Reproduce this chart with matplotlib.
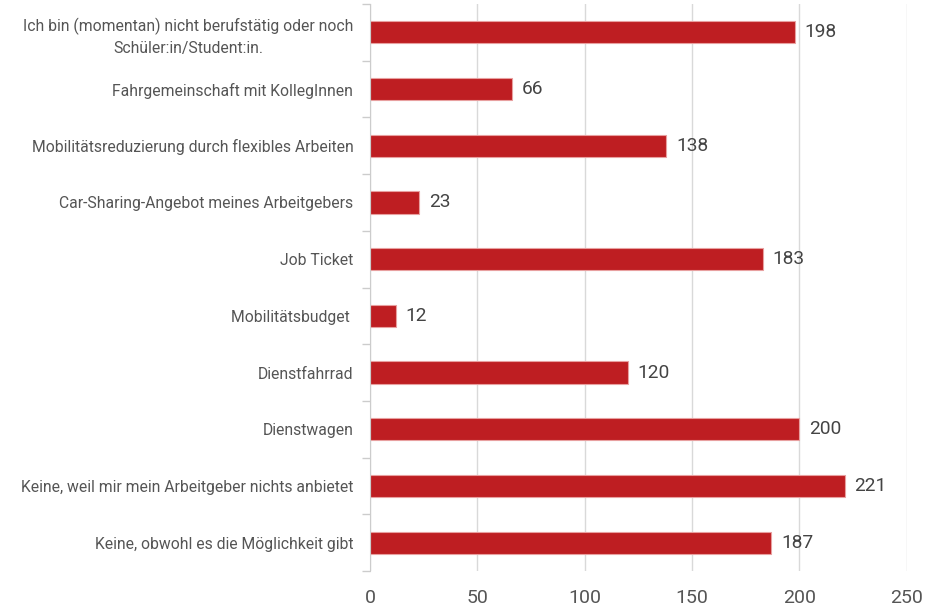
import matplotlib
matplotlib.use("Agg")
import matplotlib.pyplot as plt
import numpy as np

categories = [
    "Ich bin (momentan) nicht berufstätig oder noch\nSchüler:in/Student:in.",
    "Fahrgemeinschaft mit KollegInnen",
    "Mobilitätsreduzierung durch flexibles Arbeiten",
    "Car-Sharing-Angebot meines Arbeitgebers",
    "Job Ticket",
    "Mobilitätsbudget ",
    "Dienstfahrrad",
    "Dienstwagen",
    "Keine, weil mir mein Arbeitgeber nichts anbietet",
    "Keine, obwohl es die Möglichkeit gibt",
]
values = [198, 66, 138, 23, 183, 12, 120, 200, 221, 187]
xticks = [0, 50, 100, 150, 200, 250]

plt.rcParams['font.family'] = ['Roboto', 'DejaVu Sans']

fig = plt.figure(figsize=(9.51, 6.07), dpi=100)
ax = fig.add_axes([0.389, 0.0593, 0.5645, 0.9341])

y = np.arange(len(categories))
ax.barh(y, values, height=0.39, color="#BE1E22", edgecolor="#E8A0A0", linewidth=0.8, zorder=3)
for yi, v in zip(y, values):
    ax.text(v + 4.5, yi, str(v), va="center", ha="left", fontsize=13.8, color="#444444")

ax.set_ylim(len(categories) - 0.5, -0.5)
ax.set_xlim(0, 250)
ax.set_yticks(y)
ax.set_yticklabels(categories, fontsize=11.3, color="#555555", multialignment="center",
                   linespacing=1.5)
ax.set_yticks(np.arange(-0.5, len(categories), 1), minor=True)
ax.tick_params(axis="y", which="major", length=0, pad=12)
ax.tick_params(axis="y", which="minor", length=6, color="#cccccc", width=1)
ax.set_xticks(xticks)
ax.set_xticklabels([str(t) for t in xticks], fontsize=14, color="#555555")
ax.tick_params(axis="x", length=0, pad=13)
ax.grid(axis="x", color="#d9d9d9", linewidth=1, zorder=0)
for s in ["top", "right", "bottom"]:
    ax.spines[s].set_visible(False)
ax.spines["left"].set_color("#cccccc")
ax.spines["left"].set_zorder(4)

fig.savefig("out.png", dpi=100)
